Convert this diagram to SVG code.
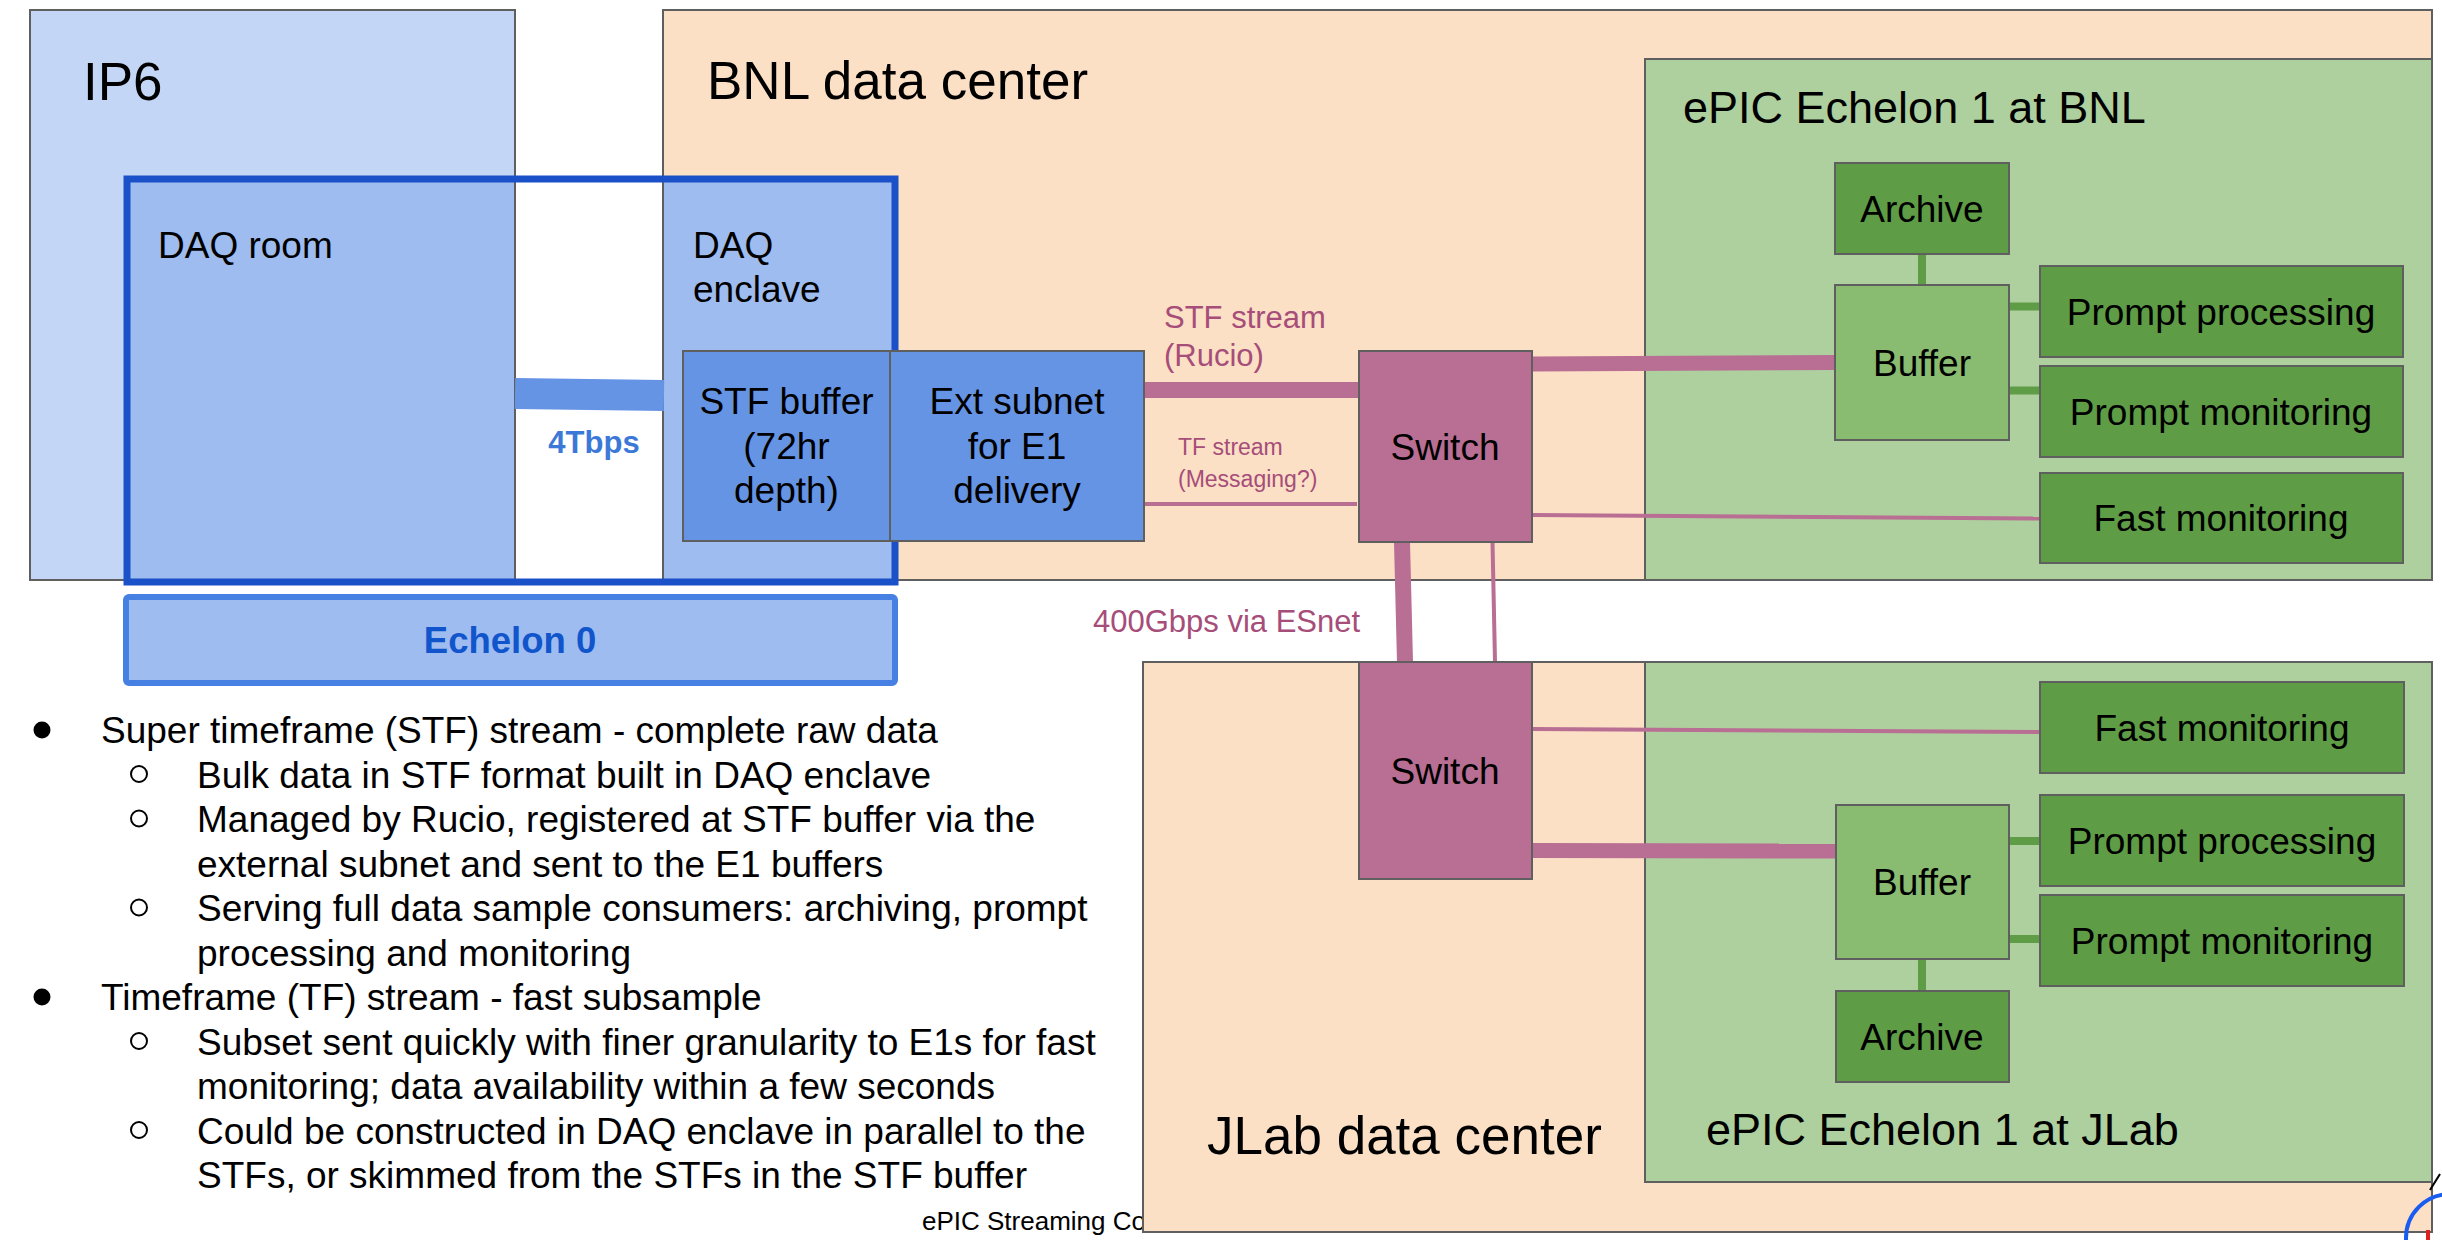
<svg xmlns="http://www.w3.org/2000/svg" width="2442" height="1240" viewBox="0 0 2442 1240">
<style>
  text { font-family: "Liberation Sans", Arial, sans-serif; fill: #000; }
  .box { stroke: #5f5f5f; stroke-width: 2; }
  .ip6 { fill: #c4d6f5; }
  .dc { fill: #fbe0c6; }
  .e1 { fill: #aed09e; }
  .daq { fill: #9ebcef; }
  .stf { fill: #6594e4; }
  .sw { fill: #b96e93; }
  .buf { fill: #89bb70; }
  .dg { fill: #5e9c46; }
  .title { font-size: 53px; }
  .sub { font-size: 45px; }
  .lbl { font-size: 37px; text-anchor: middle; }
  .room { font-size: 37px; }
  .mag { fill: #a64d79; }
  .pk { stroke: #b96e93; fill: none; }
  .gr { stroke: #5e9c46; stroke-width: 8; fill: none; }
  .bul { font-size: 37px; }
  .b1 { fill: #000; }
  .b2 { fill: none; stroke: #000; stroke-width: 2; }
</style>

<g id="ip6">
  <rect class="box ip6" x="30" y="10" width="485" height="570"/>
  <text class="title" x="83" y="100">IP6</text>
</g>

<g id="bnl-dc">
  <rect class="box dc" x="663" y="10" width="1769" height="570"/>
  <text class="title" x="707" y="99">BNL data center</text>
</g>

<g id="e1-bnl">
  <rect class="box e1" x="1645" y="59" width="787" height="521"/>
  <text class="sub" x="1683" y="123">ePIC Echelon 1 at BNL</text>
</g>

<g id="daq-room">
  <rect class="box daq" x="127" y="179" width="388" height="403"/>
  <text class="room" x="158" y="258">DAQ room</text>
</g>

<g id="daq-enclave">
  <rect class="box daq" x="663" y="179" width="232" height="403"/>
  <text class="room" x="693" y="258">DAQ</text>
  <text class="room" x="693" y="302">enclave</text>
</g>

<g id="echelon0-border">
  <rect x="127" y="179" width="768" height="403" fill="none" stroke="#1a50c8" stroke-width="7"/>
</g>

<g id="echelon0">
  <rect x="126" y="597" width="769" height="86" rx="3" fill="#9ebcef" stroke="#4680e2" stroke-width="6"/>
  <text x="510" y="653" font-size="36.5" font-weight="bold" text-anchor="middle" style="fill:#1155cc">Echelon 0</text>
</g>

<g id="footer">
  <text x="922" y="1230" font-size="26">ePIC Streaming Co</text>
</g>

<g id="jlab-dc">
  <rect class="box dc" x="1143" y="662" width="1289" height="570"/>
  <text class="title" x="1207" y="1154">JLab data center</text>
</g>

<g id="e1-jlab">
  <rect class="box e1" x="1645" y="662" width="787" height="520"/>
  <text class="sub" x="1706" y="1145">ePIC Echelon 1 at JLab</text>
</g>

<g id="connectors">
  <line x1="515" y1="393.5" x2="664" y2="395.5" stroke="#6594e4" stroke-width="31"/>
  <line class="pk" x1="1144" y1="390" x2="1359" y2="390" stroke-width="16"/>
  <line class="pk" x1="1144" y1="504" x2="1357" y2="504" stroke-width="4"/>
  <line class="pk" x1="1532" y1="364" x2="1836" y2="362.5" stroke-width="15"/>
  <line class="pk" x1="1532" y1="515" x2="2040" y2="518.5" stroke-width="4"/>
  <line class="pk" x1="1402" y1="542" x2="1405" y2="662" stroke-width="16"/>
  <line class="pk" x1="1492.5" y1="542" x2="1495" y2="662" stroke-width="4"/>
  <line class="pk" x1="1532" y1="729" x2="2040" y2="732" stroke-width="4"/>
  <line class="pk" x1="1532" y1="850.5" x2="1836" y2="851" stroke-width="15"/>
  <line class="gr" x1="1922" y1="254" x2="1922" y2="285"/>
  <line class="gr" x1="2009" y1="306.5" x2="2040" y2="306.5"/>
  <line class="gr" x1="2009" y1="390.5" x2="2040" y2="390.5"/>
  <line class="gr" x1="2009" y1="841" x2="2040" y2="841"/>
  <line class="gr" x1="2009" y1="939" x2="2040" y2="939"/>
  <line class="gr" x1="1922" y1="959" x2="1922" y2="991"/>
  <text x="594" y="453" font-size="31" font-weight="bold" text-anchor="middle" style="fill:#3c78d8">4Tbps</text>
  <text class="mag" x="1164" y="328" font-size="31">STF stream</text>
  <text class="mag" x="1164" y="366" font-size="31">(Rucio)</text>
  <text class="mag" x="1178" y="455" font-size="23">TF stream</text>
  <text class="mag" x="1178" y="487" font-size="23">(Messaging?)</text>
  <text class="mag" x="1093" y="632" font-size="31">400Gbps via ESnet</text>
</g>

<g id="stf-buffer">
  <rect class="box stf" x="683" y="351" width="207" height="190"/>
  <text class="lbl" x="786.5" y="414">STF buffer</text>
  <text class="lbl" x="786.5" y="458.5">(72hr</text>
  <text class="lbl" x="786.5" y="503">depth)</text>
</g>

<g id="ext-subnet">
  <rect class="box stf" x="890" y="351" width="254" height="190"/>
  <text class="lbl" x="1017" y="414">Ext subnet</text>
  <text class="lbl" x="1017" y="458.5">for E1</text>
  <text class="lbl" x="1017" y="503">delivery</text>
</g>

<g id="switch-bnl">
  <rect class="box sw" x="1359" y="351" width="173" height="191"/>
  <text class="lbl" x="1445" y="459.5">Switch</text>
</g>

<g id="switch-jlab">
  <rect class="box sw" x="1359" y="662" width="173" height="217"/>
  <text class="lbl" x="1445" y="783.5">Switch</text>
</g>

<g id="archive-bnl">
  <rect class="box dg" x="1835" y="163" width="174" height="91"/>
  <text class="lbl" x="1922" y="221.5">Archive</text>
</g>
<g id="buffer-bnl">
  <rect class="box buf" x="1835" y="285" width="174" height="155"/>
  <text class="lbl" x="1922" y="375.5">Buffer</text>
</g>
<g id="pp-bnl">
  <rect class="box dg" x="2040" y="266" width="363" height="91"/>
  <text class="lbl" x="2221" y="324.5">Prompt processing</text>
</g>
<g id="pm-bnl">
  <rect class="box dg" x="2040" y="366" width="363" height="91"/>
  <text class="lbl" x="2221" y="424.5">Prompt monitoring</text>
</g>
<g id="fm-bnl">
  <rect class="box dg" x="2040" y="473" width="363" height="90"/>
  <text class="lbl" x="2221" y="531">Fast monitoring</text>
</g>

<g id="fm-jlab">
  <rect class="box dg" x="2040" y="682" width="364" height="91"/>
  <text class="lbl" x="2222" y="740.5">Fast monitoring</text>
</g>
<g id="pp-jlab">
  <rect class="box dg" x="2040" y="795" width="364" height="91"/>
  <text class="lbl" x="2222" y="853.5">Prompt processing</text>
</g>
<g id="pm-jlab">
  <rect class="box dg" x="2040" y="895" width="364" height="91"/>
  <text class="lbl" x="2222" y="953.5">Prompt monitoring</text>
</g>
<g id="buffer-jlab">
  <rect class="box buf" x="1836" y="805" width="173" height="154"/>
  <text class="lbl" x="1922" y="895">Buffer</text>
</g>
<g id="archive-jlab">
  <rect class="box dg" x="1836" y="991" width="173" height="91"/>
  <text class="lbl" x="1922" y="1049.5">Archive</text>
</g>

<g id="notes">
  <circle class="b1" cx="42" cy="730" r="8.5"/>
  <text class="bul" x="101" y="743">Super timeframe (STF) stream - complete raw data</text>
  <circle class="b2" cx="139" cy="774" r="8"/>
  <text class="bul" x="197" y="787.5">Bulk data in STF format built in DAQ enclave</text>
  <circle class="b2" cx="139" cy="818.5" r="8"/>
  <text class="bul" x="197" y="832">Managed by Rucio, registered at STF buffer via the</text>
  <text class="bul" x="197" y="876.5">external subnet and sent to the E1 buffers</text>
  <circle class="b2" cx="139" cy="907.5" r="8"/>
  <text class="bul" x="197" y="921">Serving full data sample consumers: archiving, prompt</text>
  <text class="bul" x="197" y="965.5">processing and monitoring</text>
  <circle class="b1" cx="42" cy="997" r="8.5"/>
  <text class="bul" x="101" y="1010">Timeframe (TF) stream - fast subsample</text>
  <circle class="b2" cx="139" cy="1041" r="8"/>
  <text class="bul" x="197" y="1054.5">Subset sent quickly with finer granularity to E1s for fast</text>
  <text class="bul" x="197" y="1099">monitoring; data availability within a few seconds</text>
  <circle class="b2" cx="139" cy="1130" r="8"/>
  <text class="bul" x="197" y="1143.5">Could be constructed in DAQ enclave in parallel to the</text>
  <text class="bul" x="197" y="1188">STFs, or skimmed from the STFs in the STF buffer</text>
</g>

<g id="logo">
  <circle cx="2450" cy="1238" r="44" fill="none" stroke="#1a5cf0" stroke-width="4"/>
  <line x1="2428" y1="1230" x2="2428" y2="1240" stroke="#e02020" stroke-width="4"/>
  <line x1="2430" y1="1190" x2="2440" y2="1174" stroke="#000" stroke-width="2"/>
</g>
</svg>
